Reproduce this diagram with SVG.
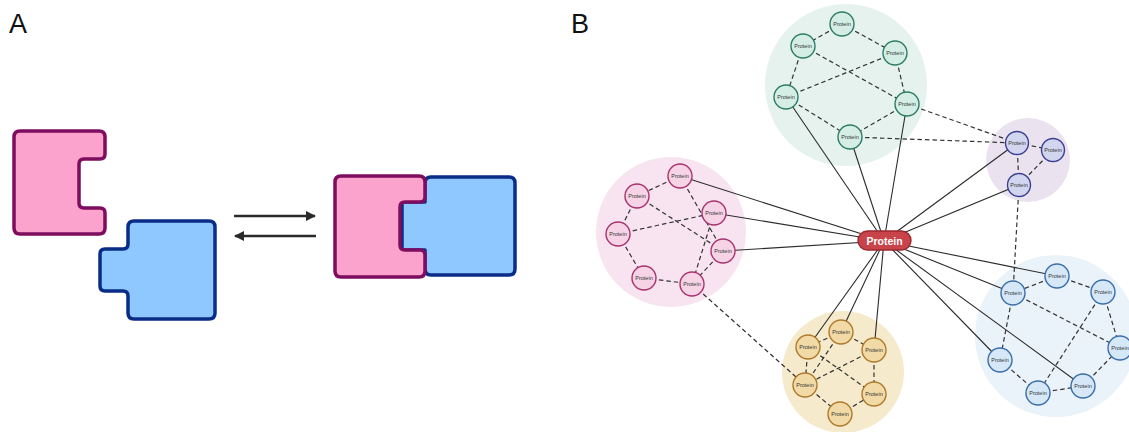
<svg xmlns="http://www.w3.org/2000/svg" width="1129" height="432" viewBox="0 0 1129 432">
<style>
.lbl{font-family:"Liberation Sans",Arial,sans-serif;font-size:27px;fill:#111}
.pk{fill:#FBA2CD;stroke:#7E0C5F;stroke-width:3.5;stroke-linejoin:round}
.bl{fill:#8EC8FF;stroke:#0B2C86;stroke-width:3.5;stroke-linejoin:round}
.arr{stroke:#2a2a2a;stroke-width:2.3;fill:none}
.sol{stroke:#2b2b2b;stroke-width:1.1;fill:none}
.dash{stroke:#333;stroke-width:1.2;stroke-dasharray:4.5 3;fill:none}
.nt{font-family:"Liberation Sans",Arial,sans-serif;font-size:5.5px;fill:#333;text-anchor:middle;dominant-baseline:central}
.g circle{fill:#D4EEE5;stroke:#2F7C66;stroke-width:1.4}
.p circle{fill:#D2D5EE;stroke:#3B3F90;stroke-width:1.4}
.m circle{fill:#F6D4E6;stroke:#A8336F;stroke-width:1.4}
.y circle{fill:#F1DAA6;stroke:#AF7A2B;stroke-width:1.4}
.b circle{fill:#D6E8F8;stroke:#3A6FA8;stroke-width:1.4}
</style>
<defs>
<marker id="ah" viewBox="0 0 10 10" refX="9" refY="5" markerWidth="11" markerHeight="10" orient="auto" markerUnits="userSpaceOnUse"><path d="M0,0 L10,5 L0,10 Z" fill="#2a2a2a"/></marker>
</defs>
<rect width="1129" height="432" fill="#fff"/>
<text class="lbl" x="9" y="33">A</text>
<text class="lbl" x="571" y="33">B</text>

<g id="pink-free"><path class="pk" d="M20,131 H99 Q105,131 105,137 V154 Q105,159 100,159 H84 Q79,159 79,164 V203 Q79,208 84,208 H100 Q105,208 105,213 V228 Q105,234 99,234 H20 Q14,234 14,228 V137 Q14,131 20,131 Z"/></g>
<g id="blue-free"><path class="bl" d="M134,221 H209 Q215,221 215,227 V313 Q215,319 209,319 H134 Q128,319 128,313 V296 Q128,291 123,291 H105 Q100,291 100,286 V254 Q100,249 105,249 H123 Q128,249 128,244 V227 Q128,221 134,221 Z"/></g>
<g id="equilibrium">
<line class="arr" x1="234" y1="216" x2="315" y2="216" marker-end="url(#ah)"/>
<line class="arr" x1="316" y1="236" x2="235" y2="236" marker-end="url(#ah)"/>
</g>
<g id="complex">
<path class="bl" d="M431,177 H509 Q515,177 515,183 V269 Q515,275 509,275 H431 Q425,275 425,269 V250 H402 V202 H425 V183 Q425,177 431,177 Z"/>
<path class="pk" d="M341,176 H419 Q425,176 425,182 V197 Q425,202 420,202 H405 Q400,202 400,207 V245 Q400,250 405,250 H420 Q425,250 425,255 V271 Q425,277 419,277 H341 Q335,277 335,271 V182 Q335,176 341,176 Z"/>
</g>

<g id="cluster-bg">
<circle cx="846" cy="85" r="81" fill="#E5F2EE"/>
<circle cx="1028" cy="160" r="42" fill="#EAE2EE"/>
<circle cx="671" cy="232" r="75" fill="#F8E4F0"/>
<circle cx="843" cy="372" r="61" fill="#F5EACC"/>
<circle cx="1056" cy="336" r="81" fill="#EAF2FA"/>
</g>

<g id="connectors">
<line class="sol" x1="884" y1="241" x2="786" y2="97"/>
<line class="sol" x1="884" y1="241" x2="850" y2="137"/>
<line class="sol" x1="884" y1="241" x2="907" y2="104"/>
<line class="sol" x1="884" y1="241" x2="1017" y2="143"/>
<line class="sol" x1="884" y1="241" x2="1019" y2="185"/>
<line class="sol" x1="884" y1="241" x2="680" y2="176"/>
<line class="sol" x1="884" y1="241" x2="714" y2="213"/>
<line class="sol" x1="884" y1="241" x2="723" y2="251"/>
<line class="sol" x1="884" y1="241" x2="808" y2="347"/>
<line class="sol" x1="884" y1="241" x2="841" y2="332"/>
<line class="sol" x1="884" y1="241" x2="874" y2="350"/>
<line class="sol" x1="884" y1="241" x2="1057" y2="276"/>
<line class="sol" x1="884" y1="241" x2="1013" y2="293"/>
<line class="sol" x1="884" y1="241" x2="1000" y2="360"/>
<line class="sol" x1="884" y1="241" x2="1083" y2="386"/>
<line class="dash" x1="842" y1="24" x2="803" y2="46"/>
<line class="dash" x1="842" y1="24" x2="895" y2="53"/>
<line class="dash" x1="803" y1="46" x2="786" y2="97"/>
<line class="dash" x1="803" y1="46" x2="907" y2="104"/>
<line class="dash" x1="895" y1="53" x2="786" y2="97"/>
<line class="dash" x1="895" y1="53" x2="907" y2="104"/>
<line class="dash" x1="786" y1="97" x2="850" y2="137"/>
<line class="dash" x1="907" y1="104" x2="850" y2="137"/>
<line class="dash" x1="907" y1="104" x2="1017" y2="143"/>
<line class="dash" x1="850" y1="137" x2="1017" y2="143"/>
<line class="dash" x1="1017" y1="143" x2="1053" y2="150"/>
<line class="dash" x1="1017" y1="143" x2="1019" y2="185"/>
<line class="dash" x1="1053" y1="150" x2="1019" y2="185"/>
<line class="dash" x1="1019" y1="185" x2="1013" y2="293"/>
<line class="dash" x1="680" y1="176" x2="637" y2="196"/>
<line class="dash" x1="637" y1="196" x2="618" y2="234"/>
<line class="dash" x1="618" y1="234" x2="644" y2="278"/>
<line class="dash" x1="644" y1="278" x2="692" y2="284"/>
<line class="dash" x1="680" y1="176" x2="723" y2="251"/>
<line class="dash" x1="637" y1="196" x2="723" y2="251"/>
<line class="dash" x1="618" y1="234" x2="714" y2="213"/>
<line class="dash" x1="714" y1="213" x2="692" y2="284"/>
<line class="dash" x1="723" y1="251" x2="692" y2="284"/>
<line class="dash" x1="692" y1="284" x2="805" y2="385"/>
<line class="dash" x1="841" y1="332" x2="808" y2="347"/>
<line class="dash" x1="841" y1="332" x2="874" y2="350"/>
<line class="dash" x1="808" y1="347" x2="805" y2="385"/>
<line class="dash" x1="841" y1="332" x2="805" y2="385"/>
<line class="dash" x1="808" y1="347" x2="874" y2="394"/>
<line class="dash" x1="874" y1="350" x2="805" y2="385"/>
<line class="dash" x1="874" y1="350" x2="874" y2="394"/>
<line class="dash" x1="805" y1="385" x2="840" y2="414"/>
<line class="dash" x1="840" y1="414" x2="874" y2="394"/>
<line class="dash" x1="1057" y1="276" x2="1013" y2="293"/>
<line class="dash" x1="1057" y1="276" x2="1103" y2="292"/>
<line class="dash" x1="1013" y1="293" x2="1000" y2="360"/>
<line class="dash" x1="1013" y1="293" x2="1120" y2="348"/>
<line class="dash" x1="1103" y1="292" x2="1038" y2="393"/>
<line class="dash" x1="1103" y1="292" x2="1120" y2="348"/>
<line class="dash" x1="1000" y1="360" x2="1038" y2="393"/>
<line class="dash" x1="1038" y1="393" x2="1083" y2="386"/>
<line class="dash" x1="1083" y1="386" x2="1120" y2="348"/>
</g>

<g id="green" class="g">
<g id="g1"><circle cx="842" cy="24" r="12"/><text class="nt" x="842" y="24">Protein</text></g>
<g id="g2"><circle cx="803" cy="46" r="12"/><text class="nt" x="803" y="46">Protein</text></g>
<g id="g3"><circle cx="895" cy="53" r="12"/><text class="nt" x="895" y="53">Protein</text></g>
<g id="g4"><circle cx="786" cy="97" r="12"/><text class="nt" x="786" y="97">Protein</text></g>
<g id="g5"><circle cx="907" cy="104" r="12"/><text class="nt" x="907" y="104">Protein</text></g>
<g id="g6"><circle cx="850" cy="137" r="12"/><text class="nt" x="850" y="137">Protein</text></g>
</g>
<g id="purple" class="p">
<g id="p1"><circle cx="1017" cy="143" r="11.5"/><text class="nt" x="1017" y="143">Protein</text></g>
<g id="p2"><circle cx="1053" cy="150" r="11.5"/><text class="nt" x="1053" y="150">Protein</text></g>
<g id="p3"><circle cx="1019" cy="185" r="11.5"/><text class="nt" x="1019" y="185">Protein</text></g>
</g>
<g id="pink" class="m">
<g id="m1"><circle cx="680" cy="176" r="12"/><text class="nt" x="680" y="176">Protein</text></g>
<g id="m2"><circle cx="637" cy="196" r="12"/><text class="nt" x="637" y="196">Protein</text></g>
<g id="m3"><circle cx="714" cy="213" r="12"/><text class="nt" x="714" y="213">Protein</text></g>
<g id="m4"><circle cx="618" cy="234" r="12"/><text class="nt" x="618" y="234">Protein</text></g>
<g id="m5"><circle cx="723" cy="251" r="12"/><text class="nt" x="723" y="251">Protein</text></g>
<g id="m6"><circle cx="644" cy="278" r="12"/><text class="nt" x="644" y="278">Protein</text></g>
<g id="m7"><circle cx="692" cy="284" r="12"/><text class="nt" x="692" y="284">Protein</text></g>
</g>
<g id="yellow" class="y">
<g id="y1"><circle cx="841" cy="332" r="12"/><text class="nt" x="841" y="332">Protein</text></g>
<g id="y2"><circle cx="808" cy="347" r="12"/><text class="nt" x="808" y="347">Protein</text></g>
<g id="y3"><circle cx="874" cy="350" r="12"/><text class="nt" x="874" y="350">Protein</text></g>
<g id="y4"><circle cx="805" cy="385" r="12"/><text class="nt" x="805" y="385">Protein</text></g>
<g id="y5"><circle cx="874" cy="394" r="12"/><text class="nt" x="874" y="394">Protein</text></g>
<g id="y6"><circle cx="840" cy="414" r="12"/><text class="nt" x="840" y="414">Protein</text></g>
</g>
<g id="blue" class="b">
<g id="b1"><circle cx="1057" cy="276" r="12"/><text class="nt" x="1057" y="276">Protein</text></g>
<g id="b2"><circle cx="1013" cy="293" r="12"/><text class="nt" x="1013" y="293">Protein</text></g>
<g id="b3"><circle cx="1103" cy="292" r="12"/><text class="nt" x="1103" y="292">Protein</text></g>
<g id="b4"><circle cx="1000" cy="360" r="12"/><text class="nt" x="1000" y="360">Protein</text></g>
<g id="b5"><circle cx="1120" cy="348" r="12"/><text class="nt" x="1120" y="348">Protein</text></g>
<g id="b6"><circle cx="1083" cy="386" r="12"/><text class="nt" x="1083" y="386">Protein</text></g>
<g id="b7"><circle cx="1038" cy="393" r="12"/><text class="nt" x="1038" y="393">Protein</text></g>
</g>
<g id="hub">
<rect x="858" y="231" width="53" height="19" rx="9.5" fill="#C9434B" stroke="#9A2930" stroke-width="1.4"/>
<text x="884.5" y="241" font-family="Liberation Sans,Arial,sans-serif" font-size="10.5" font-weight="bold" fill="#fff" text-anchor="middle" dominant-baseline="central">Protein</text>
</g>
</svg>
